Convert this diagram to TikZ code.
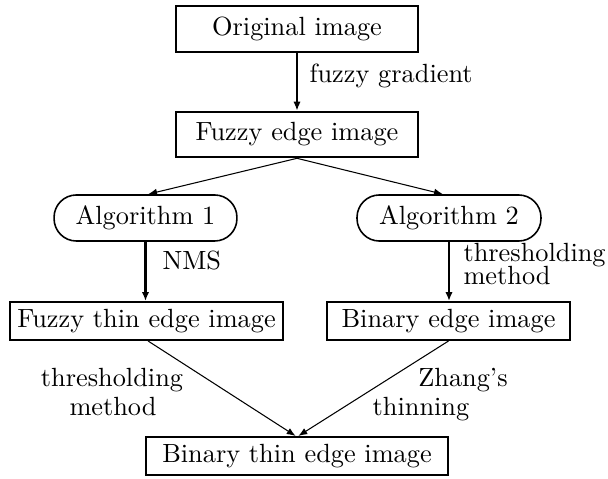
\documentclass[tikz,border=0pt]{standalone}
\usetikzlibrary{arrows.meta}
\begin{document}
\begin{tikzpicture}[x=0.38pt,y=-0.38pt,
  box/.style={draw,line width=0.8pt,inner sep=0pt,minimum height=14.4pt},
  bigbox/.style={draw,line width=0.8pt,inner sep=0pt,minimum width=92pt,minimum height=17.3pt},
  algbox/.style={draw,line width=0.6pt,rounded corners=8.5pt,inner sep=0pt,minimum height=17.5pt},
  arr/.style={-{Latex[length=3.4pt,width=2.6pt]},line width=0.4pt},
  varr/.style={-{Latex[length=3.4pt,width=2.8pt]},line width=0.8pt},
  lab/.style={inner sep=0pt,anchor=base}]
\useasboundingbox (0,0) rectangle (608,479);
\node[bigbox] (orig) at (297,29) {Original image};
\node[bigbox] (fedge) at (297,134.5) {Fuzzy edge image};
\node[algbox,minimum width=69.5pt] (alg1) at (145.5,218) {Algorithm 1};
\node[algbox,minimum width=69.9pt] (alg2) at (449,218) {Algorithm 2};
\node[box,minimum width=103.7pt] (fthin) at (146.5,321) {Fuzzy thin edge image};
\node[box,minimum width=92.3pt] (bedge) at (448.5,321) {Binary edge image};
\node[box,minimum width=114.8pt] (bthin) at (297,456) {Binary thin edge image};
\draw[varr,line width=1.1pt] (orig) -- (fedge);
\draw[arr] (fedge.south) -- ([xshift=1pt]alg1.north);
\draw[arr] (fedge.south) -- ([xshift=-2.3pt]alg2.north);
\draw[varr] (alg1.south) -- (alg1.south |- fthin.north);
\draw[varr] (alg2.south) -- (alg2.south |- bedge.north);
\draw[arr] ([xshift=0.6pt]fthin.south) -- ([xshift=-0.5pt]bthin.north);
\draw[arr] (bedge.south) -- ([xshift=0.5pt]bthin.north);
\node[lab,anchor=base west] (lfg) at (309,83) {fuzzy gradient};
\node[lab,anchor=base west] (lnms) at (162,270) {NMS};
\node[lab,anchor=base west] (lth2) at (463,262) {thresholding};
\node[lab,anchor=base west] (lme2) at (463,285) {method};
\node[lab] (lth1) at (112,387) {thresholding};
\node[lab] (lme1) at (113,415) {method};
\node[lab] (lzh) at (463,387) {Zhang's};
\node[lab] (lthin) at (421,415) {thinning};
\end{tikzpicture}
\end{document}
